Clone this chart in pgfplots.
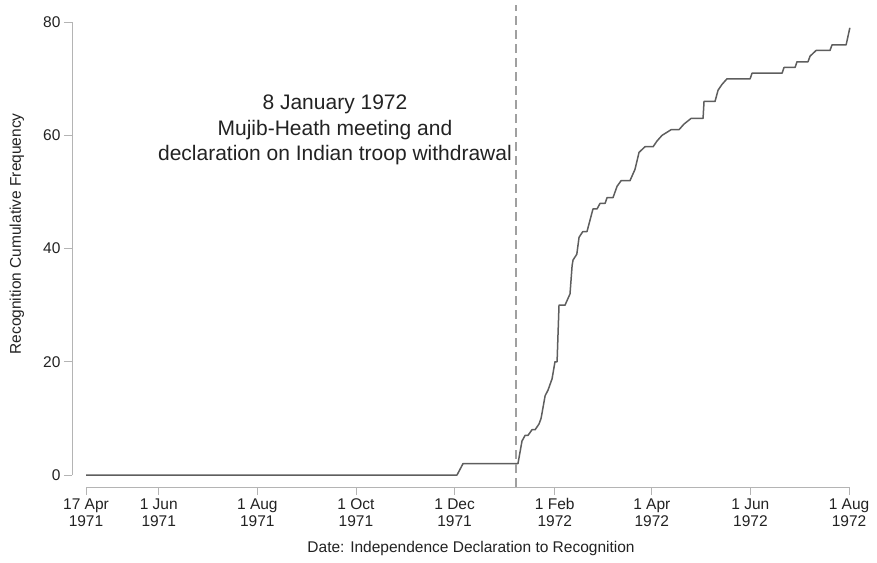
\documentclass[border=0pt]{standalone}
\usepackage{pgfplots}
\pgfplotsset{compat=1.18}
\usepackage{fontspec}
\setmainfont{Liberation Sans}
\definecolor{linegray}{HTML}{5E5E5E}
\definecolor{axisgray}{HTML}{B4B4B4}
\definecolor{dashgray}{HTML}{A0A0A0}
\definecolor{txt}{HTML}{222222}
\begin{document}
\begin{tikzpicture}
\begin{axis}[
  x=1.6165pt, y=5.66pt,
  xmin=0, xmax=472, ymin=0, ymax=80,
  axis lines=left,
  axis line style={-, draw=axisgray, line width=0.9pt},
  axis x line shift=12pt,
  axis y line shift=14pt,
  clip=false,
  tick align=outside,
  major tick length=8pt,
  tick style={axisgray, line width=0.9pt},
  xtick={0,45,106,167,228,290,350,411,472},
  xticklabels={{17 Apr\\1971},{1 Jun\\1971},{1 Aug\\1971},{1 Oct\\1971},{1 Dec\\1971},{1 Feb\\1972},{1 Apr\\1972},{1 Jun\\1972},{1 Aug\\1972}},
  xticklabel style={align=center, font=\fontsize{15.5}{17}\selectfont, text=txt},
  ytick={0,20,40,60,80},
  yticklabel style={font=\fontsize{15.5}{17}\selectfont, text=txt},
  /pgf/number format/assume math mode=true,
  scaled ticks=false,
  xlabel={Date: Independence Declaration to Recognition},
  ylabel={Recognition Cumulative Frequency},
  xlabel style={at={(axis cs:238.2,-13.07)}, anchor=center, font=\fontsize{15.5}{17}\selectfont, text=txt},
  ylabel style={at={(axis cs:-42.7,42.6)}, anchor=center, rotate=0, font=\fontsize{15.5}{17}\selectfont, text=txt},
]
\addplot[linegray, line width=1.5pt, line join=round] coordinates {
(0,0) (229.5,0) (233.2,2) (267.2,2) (269.7,6) (271.6,7) (273.4,7) (275.9,8)
(277.8,8) (280.2,9) (281.5,10) (284,14) (285.8,15) (288.3,17) (290.1,20)
(291.4,20) (292.6,30) (296.3,30) (299.4,32) (300.7,37) (301.3,38) (303.6,39)
(305,42) (307.3,43) (309.9,43) (313.6,47) (316.1,47) (318,48) (321.1,48)
(322.3,49) (326,49) (328.5,51) (331,52) (336.5,52) (339.6,54) (342.1,57)
(345.8,58) (350.8,58) (353.2,59) (356.3,60) (361.9,61) (366.8,61) (369.9,62)
(374.3,63) (381.7,63) (382.3,66) (389.1,66) (391,68) (393.4,69) (396.5,70)
(410.8,70) (412,71) (430.6,71) (431.8,72) (438.6,72) (439.8,73) (446.6,73)
(447.9,74) (451.6,75) (460.2,75) (461.5,76) (470.2,76) (472.5,79)
};
\addplot[dashgray, line width=1.3pt, dash pattern=on 9pt off 5pt] coordinates {(266,-2.12) (266,83)};
\node[align=center, font=\fontsize{21}{25.5}\selectfont, text=txt] at (axis cs:154,60.9)
  {8 January 1972\\Mujib-Heath meeting and\\declaration on Indian troop withdrawal};
\coordinate (bl) at (axis cs:-53.2,-15.37);
\coordinate (tr) at (axis cs:489.3,83.92);
\end{axis}
\pgfresetboundingbox
\path[use as bounding box] (bl) rectangle (tr);
\end{tikzpicture}
\end{document}
